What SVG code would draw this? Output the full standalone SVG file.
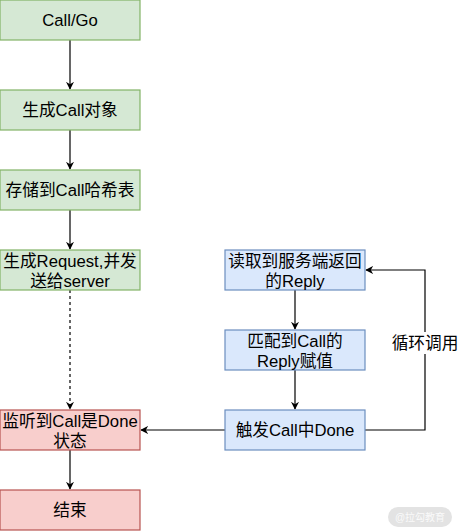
<svg xmlns="http://www.w3.org/2000/svg" width="459" height="531" viewBox="0 0 459 531">
<style>
.g{fill:#d5e8d4;stroke:#82b366;stroke-width:1.2}
.r{fill:#f8cecc;stroke:#b85450;stroke-width:1.2}
.b{fill:#dae8fc;stroke:#6c8ebf;stroke-width:1.2}
text{font-family:"Liberation Sans","Noto Sans CJK SC",sans-serif;font-size:16.7px;fill:#000;text-anchor:middle;dominant-baseline:central}
.e{fill:none;stroke:#000;stroke-width:1.2}
</style>
<defs>
<marker id="a" viewBox="0 0 10 10" refX="9" refY="5" markerWidth="8" markerHeight="8" markerUnits="userSpaceOnUse" orient="auto">
<path d="M0,0 L10,5 L0,10 L3,5 Z" fill="#000"/>
</marker>
</defs>
<rect width="459" height="531" fill="#fff"/>
<g id="edges">
<path class="e" d="M70,40 V89" marker-end="url(#a)"/>
<path class="e" d="M70,130 V169" marker-end="url(#a)"/>
<path class="e" d="M70,210 V249" marker-end="url(#a)"/>
<path class="e" d="M70,290 V409" stroke-dasharray="3 3" marker-end="url(#a)"/>
<path class="e" d="M70,450 V489" marker-end="url(#a)"/>
<path class="e" d="M295,290 V329" marker-end="url(#a)"/>
<path class="e" d="M295,370 V409" marker-end="url(#a)"/>
<path class="e" d="M225,430 H141" marker-end="url(#a)"/>
<path class="e" d="M365,430 H425 V270 H366" marker-end="url(#a)"/>
<rect x="393" y="332" width="64" height="22" fill="#fff"/>
<text x="425" y="343">循环调用</text>
</g>
<g id="n1"><rect class="g" x="0" y="0" width="140" height="40"/><text x="70" y="20">Call/Go</text></g>
<g id="n2"><rect class="g" x="0" y="90" width="140" height="40"/><text x="70" y="110">生成Call对象</text></g>
<g id="n3"><rect class="g" x="0" y="170" width="140" height="40"/><text x="70" y="190">存储到Call哈希表</text></g>
<g id="n4"><rect class="g" x="0" y="250" width="140" height="40"/><text x="70" y="261">生成Request,并发</text><text x="70" y="281">送给server</text></g>
<g id="n5"><rect class="r" x="0" y="410" width="140" height="40"/><text x="70" y="421">监听到Call是Done</text><text x="70" y="441">状态</text></g>
<g id="n6"><rect class="r" x="0" y="490" width="140" height="40"/><text x="70" y="510">结束</text></g>
<g id="nA"><rect class="b" x="225" y="250" width="140" height="40"/><text x="295" y="261">读取到服务端返回</text><text x="295" y="281">的Reply</text></g>
<g id="nB"><rect class="b" x="225" y="330" width="140" height="40"/><text x="295" y="341">匹配到Call的</text><text x="295" y="361">Reply赋值</text></g>
<g id="nC"><rect class="b" x="225" y="410" width="140" height="40"/><text x="295" y="430">触发Call中Done</text></g>
<g id="wm"><rect x="388" y="507" width="64" height="20" rx="10" fill="#e3e3e3"/><text x="420" y="517" style="font-size:10px;fill:#fafafa">@拉勾教育</text></g>
</svg>
